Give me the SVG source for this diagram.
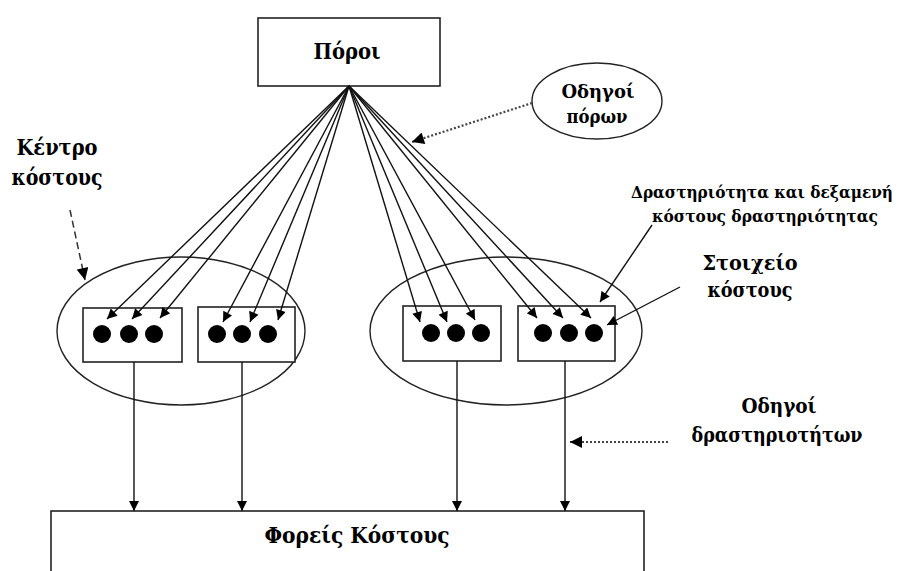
<svg xmlns="http://www.w3.org/2000/svg" width="901" height="571" viewBox="0 0 901 571">
<style>
.box{fill:#fff;stroke:#222;stroke-width:1.6}
.ell{fill:none;stroke:#222;stroke-width:1.4}
.ln{stroke:#111;stroke-width:1.4;fill:none}
.dot{fill:#000}
.t{font-family:"DejaVu Serif Condensed","DejaVu Serif","Liberation Serif",serif;font-weight:bold;fill:#000;text-anchor:middle}
.dashed{stroke:#333;stroke-width:1.5;stroke-dasharray:7 4;fill:none}
.dotted{stroke:#444;stroke-width:2.2;stroke-dasharray:2 2;fill:none}
</style>
<defs>
<marker id="ah" viewBox="0 0 10 10" refX="10" refY="5" markerWidth="11" markerHeight="10" markerUnits="userSpaceOnUse" orient="auto">
<path d="M0,0 L10,5 L0,10 Z" fill="#000"/>
</marker>
<marker id="ahb" viewBox="0 0 10 10" refX="10" refY="5" markerWidth="14" markerHeight="12" markerUnits="userSpaceOnUse" orient="auto">
<path d="M0,0 L10,5 L0,10 Z" fill="#000"/>
</marker>
</defs>
<rect width="901" height="571" fill="#fff"/>

<g id="poroi">
<rect class="box" x="258" y="18" width="182" height="68"/>
<text class="t" x="347" y="59" font-size="23" textLength="67" lengthAdjust="spacingAndGlyphs">Πόροι</text>
</g>

<g id="foreis">
<rect class="box" x="51" y="511" width="593" height="80"/>
<text class="t" x="357" y="543" font-size="23" textLength="185" lengthAdjust="spacingAndGlyphs">Φορείς Κόστους</text>
</g>

<g id="kentro-left">
<ellipse class="ell" cx="181" cy="331" rx="124" ry="74"/>
</g>
<g id="kentro-right">
<ellipse class="ell" cx="506" cy="331" rx="136" ry="74"/>
</g>

<g id="act1">
<rect class="box" x="83" y="308" width="99" height="54"/>
<circle class="dot" cx="102" cy="334" r="9"/>
<circle class="dot" cx="129" cy="334" r="9"/>
<circle class="dot" cx="154" cy="334" r="9"/>
</g>
<g id="act2">
<rect class="box" x="198" y="307" width="97" height="55"/>
<circle class="dot" cx="217" cy="334" r="9"/>
<circle class="dot" cx="242" cy="334" r="9"/>
<circle class="dot" cx="268" cy="334" r="9"/>
</g>
<g id="act3">
<rect class="box" x="403" y="306" width="98" height="55"/>
<circle class="dot" cx="431" cy="333" r="9"/>
<circle class="dot" cx="456" cy="333" r="9"/>
<circle class="dot" cx="481" cy="333" r="9"/>
</g>
<g id="act4">
<rect class="box" x="518" y="306" width="97" height="55"/>
<circle class="dot" cx="543" cy="333" r="9"/>
<circle class="dot" cx="569" cy="333" r="9"/>
<circle class="dot" cx="594" cy="333" r="9"/>
</g>

<g id="odigoi-poron">
<ellipse class="ell" cx="597" cy="101" rx="65" ry="38" stroke-width="1.8"/>
<text class="t" x="598" y="98" font-size="19" textLength="73" lengthAdjust="spacingAndGlyphs">Οδηγοί</text>
<text class="t" x="597" y="123" font-size="19" textLength="61" lengthAdjust="spacingAndGlyphs">πόρων</text>
</g>

<g id="label-kentro">
<text class="t" x="57" y="155" font-size="23" textLength="81" lengthAdjust="spacingAndGlyphs">Κέντρο</text>
<text class="t" x="57" y="185" font-size="23" textLength="91" lengthAdjust="spacingAndGlyphs">κόστους</text>
</g>
<g id="label-drast">
<text class="t" x="762" y="198" font-size="16.5" textLength="262" lengthAdjust="spacingAndGlyphs">Δραστηριότητα και δεξαμενή</text>
<text class="t" x="765" y="222" font-size="16.5" textLength="226" lengthAdjust="spacingAndGlyphs">κόστους δραστηριότητας</text>
</g>
<g id="label-stoixeio">
<text class="t" x="750" y="270" font-size="20" textLength="95" lengthAdjust="spacingAndGlyphs">Στοιχείο</text>
<text class="t" x="750" y="297" font-size="20" textLength="85" lengthAdjust="spacingAndGlyphs">κόστους</text>
</g>
<g id="label-odigoi-drast">
<text class="t" x="779" y="413" font-size="20" textLength="75" lengthAdjust="spacingAndGlyphs">Οδηγοί</text>
<text class="t" x="777" y="442" font-size="20" textLength="171" lengthAdjust="spacingAndGlyphs">δραστηριοτήτων</text>
</g>

<g id="connectors">
<line class="ln" x1="349" y1="86" x2="107" y2="319" marker-end="url(#ah)"/>
<line class="ln" x1="349" y1="86" x2="132" y2="319" marker-end="url(#ah)"/>
<line class="ln" x1="349" y1="86" x2="160" y2="318" marker-end="url(#ah)"/>
<line class="ln" x1="349" y1="86" x2="223" y2="322" marker-end="url(#ah)"/>
<line class="ln" x1="349" y1="86" x2="250" y2="322" marker-end="url(#ah)"/>
<line class="ln" x1="349" y1="86" x2="278" y2="320" marker-end="url(#ah)"/>
<line class="ln" x1="349" y1="86" x2="420" y2="322" marker-end="url(#ah)"/>
<line class="ln" x1="349" y1="86" x2="447" y2="322" marker-end="url(#ah)"/>
<line class="ln" x1="349" y1="86" x2="475" y2="320" marker-end="url(#ah)"/>
<line class="ln" x1="349" y1="86" x2="537" y2="318" marker-end="url(#ah)"/>
<line class="ln" x1="349" y1="86" x2="563" y2="318" marker-end="url(#ah)"/>
<line class="ln" x1="349" y1="86" x2="591" y2="318" marker-end="url(#ah)"/>

<line class="ln" x1="134" y1="362" x2="134" y2="511" marker-end="url(#ah)"/>
<line class="ln" x1="242" y1="362" x2="242" y2="511" marker-end="url(#ah)"/>
<line class="ln" x1="457" y1="361" x2="457" y2="511" marker-end="url(#ah)"/>
<line class="ln" x1="565" y1="361" x2="565" y2="511" marker-end="url(#ah)"/>

<line class="ln" x1="652" y1="225" x2="600" y2="302" marker-end="url(#ah)"/>
<line class="ln" x1="680" y1="287" x2="607" y2="325" marker-end="url(#ah)"/>

<line class="dashed" x1="70" y1="210" x2="85" y2="280" marker-end="url(#ahb)"/>
<line class="dotted" x1="532" y1="103" x2="412" y2="142" marker-end="url(#ahb)"/>
<line class="dotted" x1="668" y1="442" x2="570" y2="442" marker-end="url(#ahb)"/>
</g>
</svg>
